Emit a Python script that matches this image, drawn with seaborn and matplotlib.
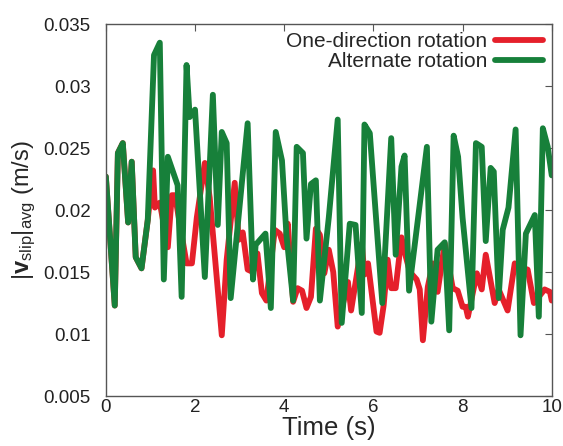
import numpy as np
import pandas as pd
import matplotlib
matplotlib.use("Agg")
import matplotlib.pyplot as plt
import seaborn as sns

# ---- data ----
green_t = [0.0, 0.2, 0.27, 0.38, 0.5, 0.58, 0.67, 0.8, 0.94, 1.08, 1.21, 1.3, 1.39, 1.61, 1.7,
           1.81, 1.88, 2.0, 2.22, 2.4, 2.51, 2.6, 2.71, 2.8, 3.18, 3.3, 3.36, 3.58, 3.7, 3.81,
           3.95, 4.05, 4.2, 4.28, 4.42, 4.5, 4.6, 4.71, 4.8, 5.0, 5.2, 5.29, 5.47, 5.6, 5.74,
           5.8, 5.92, 6.2, 6.4, 6.5, 6.63, 6.7, 6.8, 7.2, 7.3, 7.44, 7.6, 7.7, 7.8, 7.9, 8.0,
           8.2, 8.3, 8.43, 8.52, 8.63, 8.7, 8.81, 8.9, 9.03, 9.19, 9.3, 9.42, 9.62, 9.71, 9.8,
           9.91, 10.0]
green_v = [0.0227, 0.0123, 0.0246, 0.0254, 0.0190, 0.0239, 0.0162, 0.0153, 0.0192, 0.0325,
           0.0335, 0.0144, 0.0243, 0.0220, 0.0130, 0.0317, 0.0275, 0.0281, 0.0146, 0.0293,
           0.0188, 0.0263, 0.0254, 0.0129, 0.0270, 0.0144, 0.0172, 0.0181, 0.0121, 0.0263,
           0.0240, 0.0180, 0.0127, 0.0251, 0.0246, 0.0177, 0.0221, 0.0224, 0.0127, 0.0194,
           0.0273, 0.0109, 0.0189, 0.0188, 0.0117, 0.0269, 0.0262, 0.0125, 0.0258, 0.0164,
           0.0235, 0.0244, 0.0135, 0.0251, 0.0110, 0.0168, 0.0174, 0.0103, 0.0260, 0.0243,
           0.0194, 0.0121, 0.0254, 0.0251, 0.0175, 0.0234, 0.0231, 0.0129, 0.0184, 0.0202,
           0.0265, 0.0099, 0.0181, 0.0196, 0.0114, 0.0266, 0.0251, 0.0228]

red_t = [0.0, 0.2, 0.27, 0.38, 0.5, 0.58, 0.67, 0.8, 0.94, 1.06, 1.1, 1.21, 1.39, 1.48, 1.55,
         1.81, 1.93, 2.04, 2.22, 2.33, 2.6, 2.71, 2.89, 2.98, 3.07, 3.18, 3.3, 3.4, 3.5, 3.6,
         3.79, 3.9, 4.0, 4.08, 4.2, 4.3, 4.4, 4.5, 4.6, 4.71, 4.8, 4.9, 5.0, 5.1, 5.2, 5.43,
         5.5, 5.74, 5.8, 5.88, 6.07, 6.14, 6.23, 6.32, 6.4, 6.5, 6.63, 6.73, 6.82, 6.97, 7.04,
         7.11, 7.22, 7.33, 7.44, 7.6, 7.78, 7.89, 8.0, 8.07, 8.12, 8.32, 8.43, 8.52, 8.72, 8.81,
         9.01, 9.17, 9.37, 9.46, 9.6, 9.84, 9.96, 10.0]
red_v = [0.0227, 0.0123, 0.0246, 0.0254, 0.0190, 0.0239, 0.0162, 0.0153, 0.0192, 0.0232,
         0.0202, 0.0206, 0.0170, 0.0212, 0.0212, 0.0157, 0.0157, 0.0194, 0.0238, 0.0210,
         0.0099, 0.0160, 0.0222, 0.0176, 0.0182, 0.0152, 0.0150, 0.0165, 0.0133, 0.0127,
         0.0184, 0.0181, 0.0170, 0.0189, 0.0126, 0.0137, 0.0135, 0.0121, 0.0130, 0.0185,
         0.0180, 0.0149, 0.0168, 0.0150, 0.0106, 0.0142, 0.0119, 0.0173, 0.0148, 0.0157,
         0.0102, 0.0101, 0.0123, 0.0160, 0.0137, 0.0137, 0.0178, 0.0162, 0.0150, 0.0144,
         0.0136, 0.0095, 0.0138, 0.0157, 0.0134, 0.0173, 0.0137, 0.0135, 0.0122, 0.0122,
         0.0114, 0.0149, 0.0136, 0.0164, 0.0125, 0.0136, 0.0119, 0.0157, 0.0153, 0.0152,
         0.0125, 0.0136, 0.0134, 0.0127]

series_names = ["One-direction rotation", "Alternate rotation"]
x_ticks = [0, 2, 4, 6, 8, 10]
y_ticks = [0.005, 0.01, 0.015, 0.02, 0.025, 0.03, 0.035]
y_tick_labels = ["0.005", "0.01", "0.015", "0.02", "0.025", "0.03", "0.035"]

df = pd.concat([
    pd.DataFrame({"t": red_t, "v": red_v, "series": series_names[0]}),
    pd.DataFrame({"t": green_t, "v": green_v, "series": series_names[1]}),
], ignore_index=True)

sns.set_style("white")
plt.rcParams["font.family"] = ["Liberation Sans", "DejaVu Sans"]
plt.rcParams["mathtext.fontset"] = "custom"
plt.rcParams["mathtext.rm"] = "Liberation Sans"
plt.rcParams["mathtext.it"] = "Liberation Sans:italic"
plt.rcParams["mathtext.bf"] = "Liberation Sans:bold"

fig = plt.figure(figsize=(5.63, 4.46), dpi=100)
ax = fig.add_axes([0.188, 0.112, 0.792, 0.834])

LW = 4.2
palette = {series_names[0]: "#e5202b", series_names[1]: "#17803a"}
sns.lineplot(data=df, x="t", y="v", hue="series", palette=palette, sort=False,
             estimator=None, linewidth=LW, ax=ax, legend=True)

ax.set_xlim(0, 10)
ax.set_ylim(0.005, 0.035)
ax.set_xticks(x_ticks)
ax.set_xticklabels([str(v) for v in x_ticks], fontsize=13.5)
ax.set_yticks(y_ticks)
ax.set_yticklabels(y_tick_labels, fontsize=13.5)
ax.tick_params(direction="in", length=5, width=0.8, color="#555555",
               top=True, right=True, labelcolor="#222222")
ax.tick_params(axis="y", pad=11)
ax.tick_params(axis="x", pad=2)
for s in ax.spines.values():
    s.set_color("#555555")
    s.set_linewidth(1.0)

ax.set_xlabel("Time (s)", fontsize=18.5, labelpad=0)
ax.set_ylabel(r"$|\mathbf{v}_{\mathrm{slip}}|_{\mathrm{avg}}$ (m/s)", fontsize=17, labelpad=4)

leg = ax.legend(loc="upper right", frameon=False, markerfirst=False, fontsize=15,
                handlelength=2.3, handletextpad=0.4, borderaxespad=0.3, labelspacing=0.05,
                borderpad=0.1)
for line in leg.get_lines():
    line.set_linewidth(LW)

fig.savefig("out.png", dpi=100)
